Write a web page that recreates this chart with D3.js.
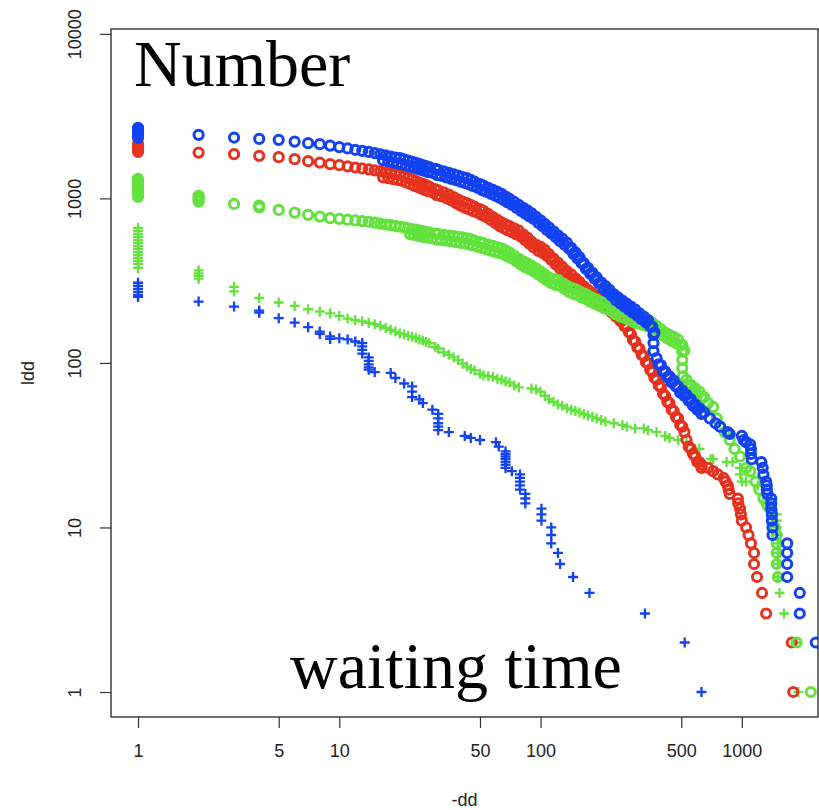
<!DOCTYPE html>
<html lang="en">

<head>
    <meta charset="UTF-8">
    <title>D3.js log-log waiting time plot</title>
    <script src="https://d3js.org/d3.v7.min.js"></script>
    <style>
        body { margin: 0; background: #fff; }
    </style>
</head>

<body>
    <svg width="819" height="810"></svg>
    <script>
        // Axis ticks
        const xTicks = [1, 5, 10, 50, 100, 500, 1000];
        const yTicks = [1, 10, 100, 1000, 10000];

        // Shared x positions of the dense part of the three circle curves
        const bandX = [10, 11, 12, 13, 14, 15, 16, 17, 18, 19, 20, 21, 22, 23, 24, 25, 26, 27, 28,
            30, 31, 33, 35, 37, 39, 41, 43, 45, 47,
            50, 52, 55, 58, 61, 64, 67, 70, 74, 78,
            82, 86, 90, 95, 100, 105, 110, 116, 122, 128,
            135, 142, 149, 156, 164, 172, 181, 190, 200, 210,
            220, 231, 243, 255, 268, 281, 295, 310, 326, 342,
            359, 377, 396, 416, 437, 459, 482, 506, 531, 558,
            586, 615];

        // x positions of the lower rows (in between the ones above), from x = 16.5
        const bandXMid = [16.5, 17.5, 18.5, 19.5, 20.5, 21.5, 22.5, 23.5, 24.5, 25.5, 26.5, 27.5, 29,
            30.5, 32, 34, 36, 38, 40, 42, 44, 46, 48.5,
            51, 53.5, 56.5, 59.5, 62.5, 65.5, 68.5, 72, 76, 80,
            84, 88, 92.5, 97.5, 102.5, 107.5, 113, 119, 125, 131.5,
            138.5, 145.5, 152.5, 160, 168, 176.5, 185.5, 195, 205, 215,
            225.5, 237, 249, 261.5, 274.5, 288, 302.5, 318, 334, 350.5,
            368, 386.5, 406, 426.5, 448, 470.5, 494, 518.5, 544.5, 572,
            600.5, 630];

        // Upper row of each band
        const blueBandY = [2047, 2011, 1974, 1945, 1915, 1883, 1854, 1823, 1797, 1772, 1755, 1724, 1695, 1667, 1644, 1619, 1594, 1572, 1550,
            1511, 1492, 1459, 1429, 1401, 1374, 1349, 1327, 1294, 1263,
            1222, 1196, 1160, 1128, 1097, 1065, 1027, 993, 951, 912,
            877, 846, 815, 772, 736, 699, 666, 630, 597, 569,
            538, 500, 470, 439, 404, 378, 353, 331, 309, 293,
            278, 262, 250, 239, 229, 220, 211, 200, 191, 182,
            166, 107, 97, 89, 83, 78, 72, 68, 64, 60,
            56, 53];

        const redBandY = [1591, 1565, 1541, 1520, 1501, 1480, 1459, 1441, 1423, 1405, 1390, 1357, 1329, 1299, 1274, 1248, 1225, 1203, 1181,
            1137, 1120, 1088, 1056, 1017, 983, 955, 935, 912, 890,
            861, 839, 804, 770, 740, 715, 696, 679, 657, 636,
            605, 577, 547, 522, 507, 486, 459, 431, 407, 385,
            362, 345, 327, 311, 292, 278, 266, 254, 240, 232,
            221, 208, 196, 181, 167, 150, 135, 122, 110, 99,
            88, 79, 71, 63, 57, 51, 46, 41, 34, 30,
            27, 25];

        const greenBandY = [751, 742, 735, 728, 721, 712, 702, 694, 687, 680, 674, 666, 658, 651, 645, 638, 632, 627, 621,
            611, 608, 601, 595, 589, 583, 579, 571, 563, 553,
            542, 534, 523, 514, 505, 497, 483, 470, 449, 429,
            414, 403, 391, 375, 360, 345, 331, 324, 320, 306,
            294, 286, 280, 272, 265, 257, 249, 242, 235, 232,
            224, 214, 208, 204, 199, 193, 189, 186, 183, 179,
            175, 168, 160, 153, 148, 144, 139, 129, 79, 73.5,
            70, 67];

        // Lower row of each band, where it turns solid
        const blueBandLowY = [1706, 1677, 1653, 1630, 1615, 1586, 1559, 1534, 1512, 1489, 1466, 1446, 1426,
            1390, 1373, 1342, 1315, 1289, 1264, 1241, 1221, 1190, 1162,
            1124, 1100, 1067, 1038, 1009, 980, 945, 914, 875, 839,
            807, 778, 750, 710, 677, 643, 613, 580, 549, 523,
            495, 460, 432, 404, 372, 348, 325, 305, 284, 270,
            256, 241, 230, 220, 211, 202, 194, 184, 176, 167,
            153, 98, 89, 82, 76, 72, 66, 63, 59, 55,
            52, 49];

        const redBandLowY = [1342, 1326, 1309, 1293, 1279, 1248, 1223, 1195, 1172, 1148, 1127, 1107, 1087,
            1046, 1030, 1001, 972, 936, 904, 879, 860, 839, 819,
            792, 772, 740, 708, 681, 658, 640, 625, 604, 585,
            557, 531, 503, 480, 466, 447, 422, 397, 374, 354,
            333, 317, 301, 286, 269, 256, 245, 234, 221, 213,
            203, 191, 180, 167, 154, 138, 124, 112, 101, 91,
            81, 73, 65, 58, 52, 47, 42, 38, 31, 28,
            25, 23];

        const greenBandLowY = [605, 599, 593, 587, 581, 577, 571,
            562, 559, 553, 547, 542, 536, 533, 525, 518, 509,
            499, 491, 481, 473, 465, 457, 444, 432, 413, 395,
            381, 371, 360, 345, 331, 317, 305, 298, 294, 282,
            270, 263, 258, 250, 244, 236, 229, 223, 216, 213,
            206, 197, 191, 188, 183, 178, 174, 171, 168, 165,
            161, 155, 147, 141, 136, 132, 128, 119, 73, 68,
            64, 62];

        // First points (short waiting times) and the sparse tails
        const blueCircleHead = [[1, 2683], [1, 2608], [1, 2537], [1, 2467], [1, 2400], [1, 2334],
            [2, 2432], [3, 2343], [4, 2299], [5, 2268], [6, 2214], [7, 2165], [8, 2135], [9, 2094]];
        const redCircleHead = [[1, 2145], [1, 2085], [1, 2030], [1, 1972], [1, 1917],
            [2, 1898], [3, 1856], [4, 1813], [5, 1780], [6, 1731], [7, 1683], [8, 1650], [9, 1614]];
        const greenCircleHead = [[1, 1314], [1, 1278], [1, 1243], [1, 1208], [1, 1175], [1, 1143], [1, 1111],
            [1, 1081], [1, 1051], [1, 1021],
            [2, 1036], [2, 1010], [2, 985], [2, 955], [3, 926], [4, 905], [4, 880], [5, 851], [6, 820],
            [7, 794], [8, 775], [9, 758]];

        const blueCircleTail = [[364, 148], [364, 132], [364, 118], [650, 50], [694, 46], [740, 43], [780, 41],
            [850, 38], [870, 37], [1000, 36], [1020, 34], [1050, 33], [1100, 32], [1110, 30], [1110, 28],
            [1120, 26], [1250, 25], [1270, 23], [1280, 21], [1320, 19], [1330, 18], [1330, 17], [1340, 16],
            [1400, 15], [1400, 14], [1400, 13], [1410, 12], [1410, 11], [1420, 10], [1420, 9],
            [1680, 8], [1680, 7], [1680, 6], [1680, 5], [1940, 4], [1940, 3], [2330, 2]];
        const redCircleTail = [[631, 24], [680, 23], [720, 22], [760, 21], [812, 20], [830, 19], [851, 18],
            [860, 17], [870, 16], [955, 15], [960, 14], [980, 13], [990, 12], [1000, 11], [1050, 10],
            [1080, 9], [1110, 8], [1150, 7], [1150, 6], [1190, 5], [1260, 4], [1320, 3], [1770, 2], [1800, 1]];
        const greenCircleTail = [[506, 117], [506, 104], [506, 93], [510, 83], [650, 62], [680, 57], [720, 54],
            [750, 46], [780, 41], [820, 38], [870, 34], [920, 30], [980, 27], [1050, 23], [1100, 22],
            [1170, 19], [1220, 17], [1280, 15], [1330, 14], [1380, 13], [1420, 11], [1460, 10],
            [1490, 9], [1490, 8], [1490, 7], [1490, 6], [1510, 5], [1870, 2], [2200, 1]];

        // Cross series
        const greenCrosses = [[1, 662], [1, 635], [1, 609], [1, 584], [1, 560], [1, 537], [1, 515], [1, 493],
            [1, 473], [1, 453], [1, 435], [1, 417], [1, 400], [1, 378],
            [2, 365], [2, 350], [2, 338], [2, 325], [3, 290], [3, 272], [4, 248], [5, 233], [6, 222], [7, 212], [8, 205], [9, 200],
            [10, 193], [11, 186], [12, 182], [13, 179], [14, 175], [15, 172], [16, 168], [17, 163], [18, 159],
            [19, 155], [20, 151], [21, 149], [22, 146], [23, 144], [24, 142], [25, 139], [26, 137], [27, 134],
            [28, 132], [30, 125], [31, 122], [33, 116], [35, 112], [37, 108], [39, 104], [41, 99], [43, 95],
            [45, 92], [47, 90], [50, 86], [52, 84], [55, 83], [58, 82], [61, 80], [64, 79], [67, 77], [70, 76],
            [74, 73], [78, 71], [90, 70], [95, 69], [100, 67], [105, 63], [110, 60], [116, 58], [122, 56],
            [128, 55], [135, 53], [142, 52], [149, 51], [156, 50], [164, 49], [172, 48], [181, 47], [190, 46],
            [200, 45], [210, 44], [231, 43], [255, 42], [268, 41], [295, 40], [326, 40], [342, 39], [377, 38],
            [416, 36], [437, 35], [482, 34], [531, 33], [586, 30], [615, 30], [700, 26], [720, 26], [840, 25],
            [900, 25], [980, 23], [980, 21], [1000, 19], [1050, 22], [1050, 19], [1200, 18], [1330, 15],
            [1330, 14], [1340, 13], [1490, 12], [1490, 11], [1490, 10], [1490, 9], [1510, 8], [1510, 7],
            [1510, 6], [1510, 5], [1540, 4], [1620, 3], [1850, 2], [1910, 1]];

        const blueCrosses = [[1, 307], [1, 294], [1, 282], [1, 270], [1, 259], [1, 252], [2, 236], [3, 220], [4, 208], [4, 202],
            [5, 187], [6, 176], [7, 165], [8, 155], [8, 150], [9, 145], [9, 140], [10, 141], [11, 139], [12, 135],
            [13, 132], [13, 126], [13, 120], [13, 114], [14, 108], [14, 103], [14, 98], [14, 94], [14, 91],
            [15, 88], [18, 87], [19, 81], [21, 75], [23, 72], [23, 67], [23, 62], [25, 60], [26, 57], [29, 52],
            [31, 49], [31, 46], [31, 43], [31, 41], [31, 39], [35, 38], [42, 36], [45, 35], [50, 34], [60, 33],
            [62, 31], [67, 29], [67, 28], [67, 27], [67, 26], [67, 25], [67, 24], [67, 23], [72, 22],
            [79, 21], [79, 20], [79, 19], [79, 18], [79, 17], [84, 16], [84, 15], [84, 14],
            [101, 13], [101, 12], [101, 11], [113, 10], [113, 9], [113, 8], [122, 7], [125, 6],
            [145, 5], [175, 4], [330, 3], [520, 2], [630, 1]];

        const blueCircles = blueCircleHead.concat(
            d3.zip(bandX, blueBandY), d3.zip(bandXMid, blueBandLowY), blueCircleTail);
        const redCircles = redCircleHead.concat(
            d3.zip(bandX, redBandY), d3.zip(bandXMid, redBandLowY), redCircleTail);
        const greenCircles = greenCircleHead.concat(
            d3.zip(bandX, greenBandY), d3.zip(bandXMid.slice(6), greenBandLowY), greenCircleTail);

        const colors = { blue: "#1242f2", red: "#e5321f", green: "#63e23d" };

        // Set up SVG
        const svg = d3.select("svg");
        const box = { left: 111, right: 818, top: 29, bottom: 717 };

        const xScale = d3.scaleLog()
            .domain([0.734, 2390])
            .range([box.left, box.right]);

        const yScale = d3.scaleLog()
            .domain([0.705, 10700])
            .range([box.bottom, box.top]);

        svg.append("rect")
            .attr("width", 819)
            .attr("height", 810)
            .attr("fill", "#fff");

        svg.append("clipPath")
            .attr("id", "plot-clip")
            .append("rect")
            .attr("x", box.left)
            .attr("y", box.top)
            .attr("width", box.right - box.left)
            .attr("height", box.bottom - box.top);

        const plot = svg.append("g").attr("clip-path", "url(#plot-clip)");

        function drawCrosses(data, color) {
            plot.append("g")
                .selectAll("path")
                .data(data)
                .enter()
                .append("path")
                .attr("transform", d => `translate(${xScale(d[0])},${yScale(d[1])})`)
                .attr("d", "M-5,0H5M0,-5V5")
                .attr("stroke", color)
                .attr("stroke-width", 2.3)
                .attr("fill", "none");
        }

        function drawCircles(data, color) {
            plot.append("g")
                .selectAll("circle")
                .data(data)
                .enter()
                .append("circle")
                .attr("cx", d => xScale(d[0]))
                .attr("cy", d => yScale(d[1]))
                .attr("r", 4.6)
                .attr("stroke", color)
                .attr("stroke-width", 3)
                .attr("fill", "none");
        }

        drawCrosses(greenCrosses, colors.green);
        drawCrosses(blueCrosses, colors.blue);
        drawCircles(redCircles, colors.red);
        drawCircles(greenCircles, colors.green);
        drawCircles(blueCircles, colors.blue);

        // Box
        svg.append("rect")
            .attr("x", box.left)
            .attr("y", box.top)
            .attr("width", box.right - box.left)
            .attr("height", box.bottom - box.top)
            .attr("fill", "none")
            .attr("stroke", "#333")
            .attr("stroke-width", 1.4);

        // Axes
        const xAxis = svg.append("g")
            .attr("transform", `translate(0,${box.bottom})`)
            .call(d3.axisBottom(xScale)
                .tickValues(xTicks)
                .tickFormat(d3.format("d"))
                .tickSize(11)
                .tickPadding(16));

        const yAxis = svg.append("g")
            .attr("transform", `translate(${box.left},0)`)
            .call(d3.axisLeft(yScale)
                .tickValues(yTicks)
                .tickFormat(d3.format("d"))
                .tickSize(11));

        [xAxis, yAxis].forEach(ax => {
            ax.select(".domain").remove();
            ax.selectAll(".tick line").attr("stroke", "#333").attr("stroke-width", 1.2);
            ax.selectAll("text")
                .attr("font-family", "Liberation Sans, Arial, sans-serif")
                .attr("font-size", "18px")
                .attr("fill", "#222");
        });

        yAxis.selectAll("text")
            .attr("x", 0)
            .attr("dy", "0.35em")
            .attr("text-anchor", "middle")
            .attr("transform", "translate(-36,0) rotate(-90)");

        // Axis titles
        svg.append("text")
            .attr("x", (box.left + box.right) / 2)
            .attr("y", 806)
            .attr("text-anchor", "middle")
            .attr("font-family", "Liberation Sans, Arial, sans-serif")
            .attr("font-size", "18px")
            .attr("fill", "#222")
            .text("-dd");

        svg.append("text")
            .attr("transform", `translate(34,${(box.top + box.bottom) / 2}) rotate(-90)`)
            .attr("text-anchor", "middle")
            .attr("font-family", "Liberation Sans, Arial, sans-serif")
            .attr("font-size", "18px")
            .attr("fill", "#222")
            .text("ldd");

        // Annotations
        svg.append("text")
            .attr("x", 134)
            .attr("y", 86)
            .attr("font-family", "Liberation Serif, Times New Roman, serif")
            .attr("font-size", "66px")
            .attr("fill", "#000")
            .text("Number");

        svg.append("text")
            .attr("x", 290)
            .attr("y", 688)
            .attr("font-family", "Liberation Serif, Times New Roman, serif")
            .attr("font-size", "66px")
            .attr("fill", "#000")
            .text("waiting time");
    </script>
</body>

</html>
